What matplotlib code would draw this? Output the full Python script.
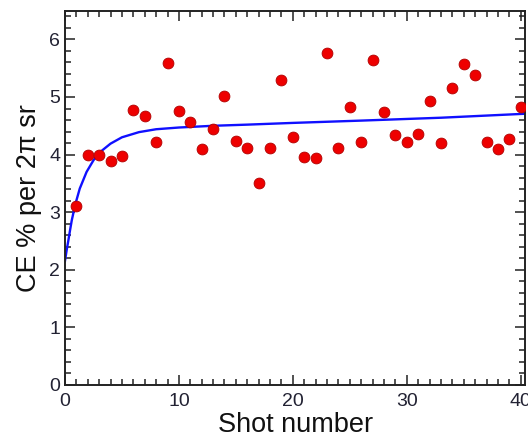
import numpy as np
import matplotlib.pyplot as plt
from matplotlib.ticker import MultipleLocator

plt.rcParams['font.family'] = ['Liberation Sans', 'DejaVu Sans']

# conversion efficiency per shot
shots = np.arange(1, 41)
ce = [3.10, 4.00, 3.99, 3.89, 3.97, 4.78, 4.67, 4.22, 5.59, 4.75,
      4.56, 4.09, 4.44, 5.02, 4.24, 4.11, 3.50, 4.11, 5.29, 4.30,
      3.95, 3.94, 5.76, 4.12, 4.83, 4.21, 5.65, 4.74, 4.34, 4.22,
      4.35, 4.93, 4.20, 5.15, 5.57, 5.39, 4.22, 4.10, 4.27, 4.82]

# fitted trend
fit_x = [0.0, 0.15, 0.3, 0.45, 0.6, 0.9, 1.3, 1.9, 2.5, 3.0, 4.0, 5.0, 6.5, 8.0,
         10.0, 13.0, 16.0, 20.0, 26.0, 33.0, 40.5]
fit_y = [2.15, 2.34, 2.51, 2.69, 2.86, 3.13, 3.41, 3.70, 3.90, 4.03, 4.19, 4.30,
         4.39, 4.44, 4.47, 4.50, 4.52, 4.55, 4.59, 4.64, 4.71]

fig = plt.figure(figsize=(5.28, 4.41), dpi=100)
ax = fig.add_axes([0.123, 0.127, 0.872, 0.849])

ax.plot(fit_x, fit_y, color='#1010ff', lw=1.7, zorder=2)
ax.plot(shots, ce, 'o', color='#ee0000', mec='#b00000', mew=0.6, ms=7.8, zorder=3)

ax.set_xlim(0, 40.4)
ax.set_ylim(0, 6.5)
ax.xaxis.set_major_locator(MultipleLocator(10))
ax.xaxis.set_minor_locator(MultipleLocator(1))
ax.yaxis.set_major_locator(MultipleLocator(1))
ax.yaxis.set_minor_locator(MultipleLocator(0.2))

for s in ax.spines.values():
    s.set_linewidth(1.4)
    s.set_color('#222222')
ax.tick_params(which='both', direction='in', top=True, right=True,
               color='#222222', width=1.1, labelsize=14, labelcolor='#222233')
ax.tick_params(which='major', length=7.5)
ax.tick_params(which='minor', length=4)
ax.tick_params(axis='x', pad=5.5)
ax.tick_params(axis='y', pad=3.5)

ax.set_xlabel('Shot number', fontsize=19.5, color='#111111', labelpad=2)
ax.set_ylabel('CE % per 2\u03c0 sr', fontsize=19.5, color='#111111', labelpad=5)

fig.savefig('out.png', dpi=100)
